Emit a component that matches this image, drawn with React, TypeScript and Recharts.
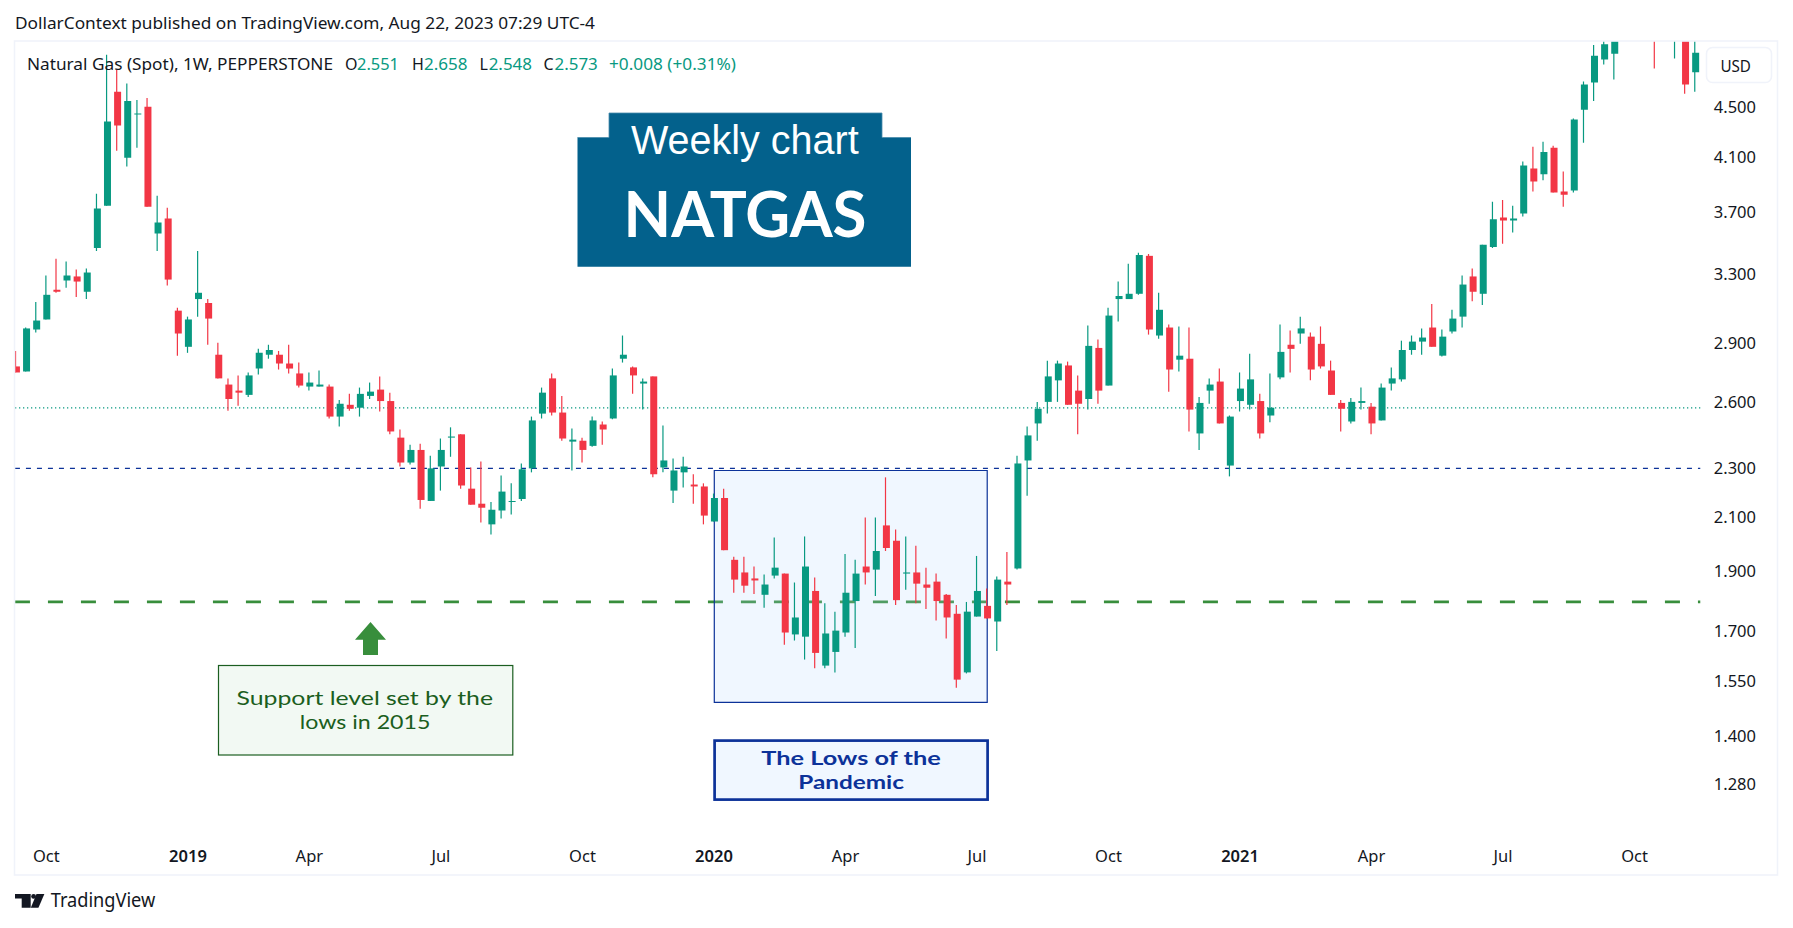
import React from "react";
import { ComposedChart, Bar, Cell, XAxis, YAxis, ReferenceLine, ReferenceArea } from "recharts";

const opens = [2.779,2.753,2.976,3.032,3.204,3.259,3.284,3.192,3.462,3.745,4.627,4.094,4.435,4.5,3.556,3.657,3.082,2.882,3.149,3.126,2.84,2.687,2.657,2.636,2.768,2.84,2.84,2.794,2.743,2.677,2.677,2.677,2.532,2.588,2.574,2.631,2.662,2.606,2.435,2.325,2.38,2.165,2.308,2.435,2.45,2.215,2.154,2.073,2.127,2.161,2.173,2.3,2.546,2.718,2.551,2.417,2.421,2.398,2.495,2.523,2.819,2.774,2.692,2.728,2.304,2.207,2.283,2.232,2.224,2.084,2.177,1.941,1.896,1.875,1.819,1.885,1.892,1.69,1.683,1.832,1.595,1.636,1.696,1.798,1.917,1.906,2.069,2.011,1.892,1.896,1.854,1.864,1.819,1.756,1.575,1.747,1.782,1.731,1.864,1.91,2.334,2.5,2.602,2.708,2.784,2.657,2.616,2.876,2.682,3.149,3.149,3.18,3.412,2.943,2.987,2.814,2.819,2.454,2.657,2.702,2.312,2.606,2.588,2.606,2.537,2.723,2.893,2.954,2.937,2.898,2.758,2.597,2.509,2.597,2.579,2.514,2.692,2.713,2.865,2.91,2.987,2.835,2.965,3.048,3.284,3.18,3.469,3.664,3.644,3.691,4.013,3.969,4.169,3.844,3.851,4.475,4.707,4.911,4.964,5.2,5.6,5.3,5.7,5.5,5.4,5.6,4.796];
const highs = [2.86,2.987,3.132,3.29,3.394,3.376,3.327,3.333,3.829,4.956,4.822,4.698,4.556,4.574,3.814,3.731,3.099,3.048,3.443,3.149,2.904,2.718,2.733,2.748,2.871,2.893,2.86,2.893,2.799,2.748,2.758,2.687,2.611,2.641,2.672,2.697,2.728,2.647,2.472,2.403,2.407,2.355,2.431,2.482,2.45,2.304,2.329,2.161,2.27,2.237,2.321,2.532,2.672,2.743,2.631,2.477,2.435,2.532,2.509,2.768,2.943,2.779,2.718,2.728,2.491,2.342,2.35,2.275,2.237,2.195,2.215,1.952,1.952,1.917,1.889,2.023,1.892,1.861,2.027,1.878,1.791,1.763,1.962,1.941,2.1,2.1,2.262,2.053,2.027,1.992,1.913,1.892,1.822,1.785,1.795,1.955,1.84,1.882,1.969,2.355,2.486,2.602,2.809,2.809,2.804,2.733,2.998,2.921,3.099,3.253,3.363,3.431,3.424,3.186,3.004,2.993,2.987,2.626,2.718,2.768,2.537,2.748,2.845,2.641,2.743,3.004,2.97,3.048,2.96,2.993,2.809,2.611,2.621,2.672,2.597,2.692,2.774,2.915,2.943,2.982,3.121,2.976,3.087,3.29,3.333,3.483,3.772,3.785,3.745,4.065,4.177,4.217,4.185,3.991,4.403,4.716,5.045,5.2,5.4,5.8,6.3,6.2,5.9,6.1,5.9,5.9,5.2];
const lows = [2.748,2.753,2.96,3.032,3.186,3.216,3.161,3.149,3.443,3.745,4.146,4.028,4.169,3.738,3.443,3.229,2.835,2.85,3.048,2.893,2.718,2.56,2.583,2.626,2.738,2.819,2.763,2.743,2.672,2.657,2.677,2.523,2.486,2.56,2.532,2.616,2.556,2.45,2.308,2.317,2.134,2.165,2.207,2.35,2.215,2.15,2.08,2.034,2.096,2.111,2.165,2.283,2.523,2.537,2.421,2.291,2.325,2.394,2.403,2.519,2.799,2.641,2.565,2.262,2.283,2.157,2.22,2.154,2.073,2.084,1.976,1.826,1.826,1.822,1.776,1.875,1.658,1.671,1.613,1.587,1.587,1.575,1.683,1.648,1.854,1.815,1.973,1.785,1.836,1.791,1.772,1.734,1.677,1.531,1.572,1.747,1.741,1.639,1.785,1.906,2.186,2.421,2.546,2.602,2.588,2.45,2.565,2.593,2.682,3.021,3.149,3.174,2.948,2.926,2.652,2.753,2.463,2.38,2.593,2.5,2.266,2.556,2.565,2.431,2.505,2.713,2.748,2.898,2.708,2.768,2.636,2.463,2.5,2.565,2.45,2.514,2.657,2.702,2.84,2.84,2.882,2.83,2.954,2.987,3.137,3.115,3.462,3.489,3.563,3.671,3.844,3.925,3.837,3.738,3.837,4.209,4.548,4.867,4.734,5.1,5.2,5.15,4.83,5.3,4.92,4.609,4.627];
const closes = [2.748,2.982,3.026,3.174,3.192,3.29,3.253,3.308,3.725,4.379,4.346,4.548,4.443,3.738,3.63,3.265,2.954,3.032,3.186,3.037,2.718,2.616,2.647,2.733,2.85,2.865,2.794,2.768,2.682,2.697,2.687,2.532,2.593,2.569,2.641,2.652,2.606,2.463,2.325,2.38,2.169,2.3,2.38,2.44,2.228,2.15,2.138,2.13,2.203,2.165,2.296,2.514,2.647,2.551,2.431,2.426,2.38,2.514,2.472,2.733,2.84,2.733,2.702,2.275,2.334,2.291,2.308,2.224,2.107,2.177,1.976,1.871,1.85,1.868,1.854,1.913,1.696,1.744,1.917,1.633,1.693,1.702,1.826,1.892,1.896,1.973,1.984,1.801,1.896,1.857,1.843,1.798,1.744,1.554,1.763,1.832,1.741,1.871,1.854,2.321,2.445,2.569,2.728,2.794,2.588,2.593,2.887,2.657,3.054,3.167,3.18,3.418,2.976,3.087,2.763,2.835,2.565,2.597,2.687,2.5,2.532,2.667,2.713,2.454,2.574,2.855,2.871,2.982,2.763,2.779,2.636,2.569,2.602,2.606,2.5,2.672,2.718,2.865,2.91,2.932,2.882,2.937,3.037,3.235,3.192,3.483,3.651,3.644,3.657,4.035,3.917,4.138,3.837,3.822,4.395,4.689,4.947,5.053,5.2,5.6,5.3,5.6,5.5,5.8,5.7,4.689,4.973];

const priceTicks = [1.28, 1.4, 1.55, 1.7, 1.9, 2.1, 2.3, 2.6, 2.9, 3.3, 3.7, 4.1, 4.5];
const timeTickIndex = [3, 17, 29, 42, 56, 69, 82, 95, 108, 121, 134, 147, 160];
const timeTickLabels = ["Oct", "2019", "Apr", "Jul", "Oct", "2020", "Apr", "Jul", "Oct", "2021", "Apr", "Jul", "Oct"];

const supportLevel = 1.795;
const resistanceLevel = 2.3;
const lastPrice = 2.573;
const boxFromBar = 69.03;
const boxToBar = 96.01;
const boxHigh = 2.291;
const boxLow = 1.49;

const UP = "#089981";
const DOWN = "#F23645";
const INK = "#131722";
const FRAME = "#F0F3FA";
const BLUE = "#0C3299";
const FONT = "'Noto Sans', sans-serif";
const NOTE_FONT = "Lato, sans-serif";

const rows = opens.map((o, i) => ({
  i,
  wick: [lows[i], highs[i]],
  body: [Math.min(o, closes[i]), Math.max(o, closes[i])],
  up: closes[i] >= o,
}));

const PriceTick = (p: any) => (
  <text x={1756} y={p.y + 6} textAnchor="end" fontSize={16.5} fontFamily={FONT} fill={INK}>
    {p.payload.value.toFixed(3)}
  </text>
);

const TimeTick = (p: any) => {
  const label = timeTickLabels[timeTickIndex.indexOf(p.payload.value)];
  const year = /^\d/.test(label);
  return (
    <text x={p.x} y={862} textAnchor="middle" fontSize={16.5} fontWeight={year ? 600 : 400} fontFamily={FONT} fill={INK}>
      {label}
    </text>
  );
};

const T = (p: any) => (
  <text fontFamily={FONT} lengthAdjust="spacingAndGlyphs" {...p} />
);

export default function App() {
  return (
    <div style={{ position: "absolute", left: 0, top: 0, width: 1793, height: 928, background: "#fff", overflow: "hidden" }}>
      <div style={{ position: "absolute", left: 0, top: 0 }}>
        <ComposedChart
          width={1793}
          height={928}
          data={rows}
          margin={{ top: 41, right: 15, bottom: 53, left: 10.94 }}
          barGap={0}
          barCategoryGap={0}
        >
          <XAxis xAxisId="body" dataKey="i" type="category" ticks={timeTickIndex} interval={0} tick={<TimeTick />} tickLine={false} axisLine={false} height={37} />
          <XAxis xAxisId="wick" dataKey="i" type="category" hide />
          <XAxis xAxisId="idx" dataKey="i" type="number" domain={[-0.5, 166.5]} allowDataOverflow hide />
          <YAxis
            orientation="right"
            width={77.72}
            scale="log"
            domain={[1.1583, 5.0835]}
            allowDataOverflow
            ticks={priceTicks}
            interval={0}
            tick={<PriceTick />}
            tickLine={false}
            axisLine={false}
          />
          <ReferenceLine xAxisId="idx" y={supportLevel} stroke="#388E3C" strokeWidth={2.8} strokeDasharray="15 18" strokeDashoffset={12.66} zIndex={90} />
          <ReferenceArea xAxisId="idx" x1={boxFromBar} x2={boxToBar} y1={boxHigh} y2={boxLow} fill="rgb(180,215,255)" fillOpacity={0.2} stroke={BLUE} strokeWidth={1.2} zIndex={95} />
          <ReferenceLine xAxisId="idx" y={lastPrice} stroke={UP} strokeWidth={1.3} strokeDasharray="1.3 2.7" zIndex={96} />
          <ReferenceLine xAxisId="idx" y={resistanceLevel} stroke={BLUE} strokeWidth={1.4} strokeDasharray="5 6" strokeDashoffset={2.66} zIndex={96} />
          <Bar xAxisId="wick" dataKey="wick" barSize={1.2} isAnimationActive={false}>
            {rows.map((r) => (
              <Cell key={r.i} fill={r.up ? UP : DOWN} />
            ))}
          </Bar>
          <Bar xAxisId="body" dataKey="body" barSize={7} isAnimationActive={false}>
            {rows.map((r) => (
              <Cell key={r.i} fill={r.up ? UP : DOWN} />
            ))}
          </Bar>
        </ComposedChart>
      </div>
      <svg width={1793} height={928} style={{ position: "absolute", left: 0, top: 0, pointerEvents: "none" }}>
        {/* frame */}
        <rect x={0} y={0} width={14} height={928} fill="#fff" />
        <rect x={0} y={0} width={1793} height={40} fill="#fff" />
        <rect x={14.5} y={41} width={1763} height={834} fill="none" stroke={FRAME} strokeWidth={1.6} />
        <T x={15} y={29} fontSize={16.5} fill={INK} textLength={580}>DollarContext published on TradingView.com, Aug 22, 2023 07:29 UTC-4</T>

        {/* legend */}
        <T x={27} y={70} fontSize={16} fill={INK} textLength={306}>Natural Gas (Spot), 1W, PEPPERSTONE</T>
        <T x={345} y={70} fontSize={16} fill={INK}>O</T>
        <T x={357} y={70} fontSize={16} fill={UP} textLength={42}>2.551</T>
        <T x={412} y={70} fontSize={16} fill={INK}>H</T>
        <T x={424} y={70} fontSize={16} fill={UP} textLength={43.6}>2.658</T>
        <T x={479.5} y={70} fontSize={16} fill={INK}>L</T>
        <T x={488.7} y={70} fontSize={16} fill={UP} textLength={43.3}>2.548</T>
        <T x={543.4} y={70} fontSize={16} fill={INK}>C</T>
        <T x={554.5} y={70} fontSize={16} fill={UP} textLength={43.3}>2.573</T>
        <T x={609} y={70} fontSize={16} fill={UP} textLength={127}>+0.008 (+0.31%)</T>

        {/* currency */}
        <rect x={1706.5} y={47.5} width={65} height={35} rx={6} fill="#fff" stroke={FRAME} strokeWidth={1.6} />
        <T x={1720.4} y={71.5} fontSize={16.5} fill={INK} textLength={30.6}>USD</T>

        {/* badge */}
        <path d="M609 113H882V137.5H911V266.7H577.5V137.5H609Z" fill="#03618C" />
        <path d="M577.5 137.5H609V113H882V137.5H911" fill="none" stroke="#4A8CAB" strokeWidth={0.8} />
        <T x={631} y={154} fontSize={41} fill="#fff" fontFamily="'Liberation Sans', sans-serif" textLength={227.7}>Weekly chart</T>
        <T x={623.5} y={237} fontSize={63} fontWeight={700} fill="#fff" fontFamily="Lato, sans-serif" textLength={243}>NATGAS</T>

        {/* support note */}
        <path d="M370.5 622L386 639.7H378V655H363V639.7H355Z" fill="#388E3C" />
        <rect x={218.5} y={665.5} width={294.3} height={89.5} fill="#F2F9F3" stroke="#1B5E20" strokeWidth={1.2} />
        <T x={236.5} y={705} fontSize={19.7} fill="#1B5E20" fontFamily={NOTE_FONT} textLength={256.5}>Support level set by the</T>
        <T x={299.7} y={729} fontSize={19.7} fill="#1B5E20" fontFamily={NOTE_FONT} textLength={130.8}>lows in 2015</T>

        {/* pandemic note */}
        <rect x={714.6} y={740.6} width={273} height={59} fill="#F0F7FF" stroke={BLUE} strokeWidth={2.7} />
        <T x={761.3} y={765} fontSize={19.5} fontWeight={700} fill={BLUE} fontFamily={NOTE_FONT} textLength={179.4}>The Lows of the</T>
        <T x={798.3} y={788.7} fontSize={19.5} fontWeight={700} fill={BLUE} fontFamily={NOTE_FONT} textLength={105.7}>Pandemic</T>

        {/* brand */}
        <path d="M15 894H30.7V907.7H21.7V898.6H15Z" fill={INK} />
        <circle cx={33.6} cy={896.4} r={2.4} fill={INK} />
        <path d="M36.5 894H44.4L38.4 907.7H30.8Z" fill={INK} />
        <T x={50.7} y={907} fontSize={19} fill={INK} textLength={104.6}>TradingView</T>
      </svg>
    </div>
  );
}
